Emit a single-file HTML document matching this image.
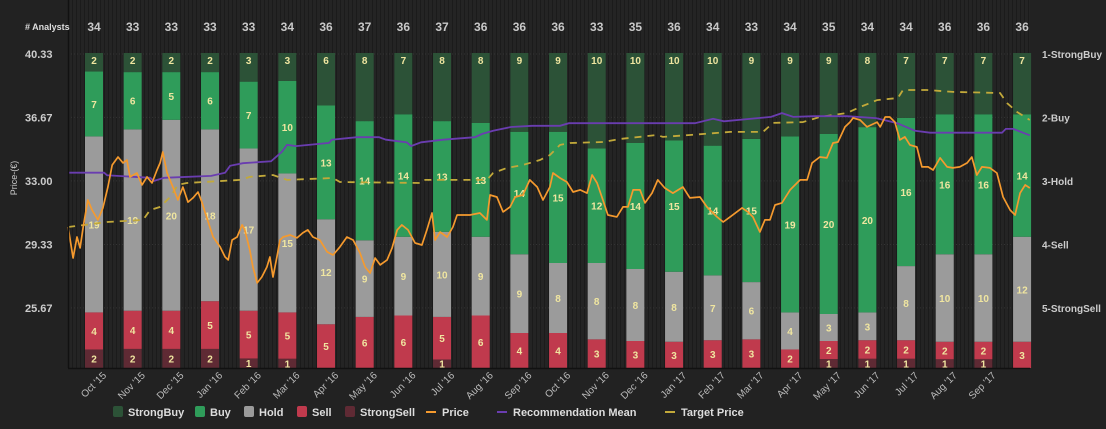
<!DOCTYPE html>
<html><head><meta charset="utf-8">
<style>
html,body{margin:0;padding:0;background:#222222;}
body{width:1106px;height:424px;overflow:hidden;font-family:"Liberation Sans",sans-serif;}
svg text{font-family:"Liberation Sans",sans-serif;}
</style></head>
<body>
<svg id="chart" width="1106" height="424" viewBox="0 0 1106 424" xmlns="http://www.w3.org/2000/svg">
<defs>
<pattern id="stripes" width="4" height="10" patternUnits="userSpaceOnUse">
<rect width="4" height="10" fill="#242424"/><rect width="1" height="10" fill="#1b1b1b"/>
</pattern>
</defs>
<rect x="0" y="0" width="1106" height="424" fill="#222222"/>
<rect x="68" y="0" width="962" height="368" fill="url(#stripes)"/>
<g id="grid"></g>
<g id="bars"></g>
<g id="lines"></g>
<g id="axes"></g>
<g id="legend"></g>
</svg>
<script>
const months = ["Oct '15","Nov '15","Dec '15","Jan '16","Feb '16","Mar '16","Apr '16","May '16","Jun '16","Jul '16","Aug '16","Sep '16","Oct '16","Nov '16","Dec '16","Jan '17","Feb '17","Mar '17","Apr '17","May '17","Jun '17","Jul '17","Aug '17","Sep '17",""];
const strongBuy = [2,2,2,2,3,3,6,8,7,8,8,9,9,10,10,10,10,9,9,9,8,7,7,7,7];
const buy = [7,6,5,6,7,10,13,14,14,13,13,14,15,12,14,15,14,15,19,20,20,16,16,16,14];
const hold = [19,19,20,18,17,15,12,9,9,10,9,9,8,8,8,8,7,6,4,3,3,8,10,10,12];
const sell = [4,4,4,5,5,5,5,6,6,5,6,4,4,3,3,3,3,3,2,2,2,2,2,2,3];
const strongSell = [2,2,2,2,1,1,0,0,0,1,0,0,0,0,0,0,0,0,0,1,1,1,1,1,0];
const priceTicks = [40.33,36.67,33.00,29.33,25.67];
const recTicks = ["1-StrongBuy","2-Buy","3-Hold","4-Sell","5-StrongSell"];
// time in months from Oct '15, value
const priceT = [-0.67,-0.54,-0.44,-0.36,-0.28,-0.16,-0.05,0.10,0.23,0.36,0.47,0.62,0.75,0.85,0.93,1.11,1.24,1.37,1.50,1.63,1.71,1.78,1.89,2.04,2.17,2.30,2.43,2.56,2.69,2.79,2.92,3.08,3.26,3.39,3.47,3.57,3.70,3.83,3.90,4.03,4.11,4.22,4.34,4.47,4.55,4.63,4.73,4.81,4.89,5.07,5.25,5.40,5.53,5.66,5.84,6.03,6.18,6.36,6.54,6.70,6.88,7.01,7.14,7.27,7.40,7.58,7.71,7.84,7.96,8.12,8.30,8.48,8.61,8.74,8.82,8.95,9.13,9.28,9.39,9.72,9.98,10.16,10.24,10.42,10.58,10.76,10.89,11.09,11.27,11.46,11.61,11.79,11.87,12.05,12.23,12.39,12.57,12.75,12.88,13.01,13.16,13.29,13.52,13.68,13.81,13.94,14.12,14.25,14.43,14.58,14.76,14.97,15.23,15.41,15.67,15.85,16.11,16.27,16.45,16.76,16.91,17.04,17.22,17.35,17.48,17.61,17.79,18.00,18.26,18.44,18.57,18.77,18.95,19.11,19.24,19.42,19.55,19.63,19.81,19.99,20.25,20.33,20.46,20.58,20.71,20.84,20.97,21.10,21.28,21.41,21.57,21.70,21.88,22.06,22.21,22.39,22.58,22.70,22.83,22.96,23.17,23.35,23.51,23.69,23.82,23.95,24.08,24.20];
const priceV = [30.34,28.55,29.76,29.13,30.34,31.90,31.32,30.75,31.44,32.65,33.92,34.38,34.04,34.21,33.23,33.46,32.77,33.23,32.88,33.63,34.04,34.67,33.46,32.65,31.90,32.65,31.78,32.02,32.36,31.78,30.86,29.76,29.19,28.61,28.44,29.59,29.76,30.46,30.17,29.01,28.03,27.11,27.45,28.03,28.61,27.45,28.61,29.59,29.76,29.88,29.71,30.00,30.17,29.76,29.59,28.90,28.72,29.19,29.76,29.59,28.84,28.03,27.68,28.55,28.15,28.44,29.13,30.17,30.46,30.17,29.42,29.30,30.17,31.15,29.59,30.05,29.76,30.34,31.03,31.03,31.15,30.75,32.19,32.07,31.21,31.50,32.07,32.19,33.06,32.65,31.90,32.65,33.46,33.17,32.94,32.36,32.48,32.30,33.34,32.88,31.90,31.03,30.92,31.50,31.50,32.48,32.48,31.73,32.30,33.06,32.59,32.30,32.65,32.02,32.07,31.50,30.92,30.63,30.92,31.44,31.21,30.92,30.05,30.75,30.75,31.61,31.73,32.48,33.06,33.06,34.04,34.38,34.33,35.19,35.25,36.12,36.40,36.64,36.52,36.12,36.40,36.12,36.69,36.69,36.40,35.37,35.54,35.08,34.96,33.81,33.81,33.63,34.33,33.81,33.75,33.81,34.04,34.38,33.34,33.81,33.75,33.46,32.07,31.32,31.03,32.30,32.77,32.59];
const recT = [-0.67,0.26,0.34,1.45,1.55,1.81,3.03,3.39,3.52,3.85,4.58,4.86,4.99,5.22,6.08,6.15,6.80,7.37,7.55,8.09,8.20,8.46,9.03,9.85,10.03,10.32,10.78,11.33,12.05,12.28,15.54,16.01,16.29,17.51,17.79,18.08,18.62,19.47,20.22,20.77,21.23,21.62,23.48,23.58,23.77,24.20];
const recV = [2.87,2.87,2.91,2.95,3.00,2.95,2.92,2.87,2.76,2.72,2.69,2.54,2.43,2.45,2.40,2.35,2.31,2.31,2.35,2.39,2.45,2.39,2.35,2.31,2.26,2.21,2.15,2.13,2.13,2.09,2.09,2.02,2.06,1.99,1.93,1.99,1.98,1.98,2.01,2.09,2.21,2.24,2.24,2.18,2.18,2.28];
const targetT = [-0.67,0.34,1.27,1.45,1.71,1.97,2.17,2.40,3.78,4.03,4.63,4.99,6.18,6.36,8.43,8.51,10.16,10.32,10.68,11.09,11.53,11.79,12.05,12.31,13.16,13.60,14.56,14.71,15.41,16.45,17.30,17.56,18.33,18.77,19.47,19.81,20.07,20.25,20.79,20.92,21.54,22.21,23.43,23.61,23.87,24.20];
const targetV = [30.34,30.63,30.75,31.32,31.50,32.07,32.77,32.88,33.06,33.23,33.34,33.06,33.17,32.94,32.88,33.06,33.06,33.46,33.75,33.92,34.21,34.50,35.08,35.19,35.25,35.42,35.65,35.54,35.65,35.83,35.83,36.35,36.40,36.69,36.92,37.27,37.50,37.67,37.79,38.25,38.25,38.14,38.08,37.50,36.98,36.52];

const NS="http://www.w3.org/2000/svg";
const plotTop=53, plotBottom=368, plotLeft=68, plotRight=1030;
const xM = m => 94 + m*38.67;
const yP = v => 54 + (40.33 - v)/3.667*63.5;
const yR = r => 54 + (r-1)*63.5;
function mk(tag, attrs, parent, txt){const e=document.createElementNS(NS,tag);for(const k in attrs)e.setAttribute(k,attrs[k]);if(txt!==undefined)e.textContent=txt;parent.appendChild(e);return e;}

const grid=document.getElementById('grid');
priceTicks.forEach((v,i)=>{
  const l=mk('line',{x1:plotLeft,x2:plotRight,y1:yP(v),y2:yP(v),stroke:'#333',"stroke-width":1,"stroke-dasharray":"1,2"},grid);
  
  
});

const bars=document.getElementById('bars');
const segs=[[strongSell,'#5f2a34'],[sell,'#c03a4d'],[hold,'#9b9b9b'],[buy,'#2f9c5a'],[strongBuy,'#2c5237']];
const segNames=['strongsell','sell','hold','buy','strongbuy'];
const bw=18, H=plotBottom-plotTop;
months.forEach((m,i)=>{
  const total=strongBuy[i]+buy[i]+hold[i]+sell[i]+strongSell[i];
  let y=plotBottom; const cx=xM(i);
  segs.forEach((s,k)=>{
    const n=s[0][i]; if(!n) return;
    const h=n/total*H; y-=h;
    const r=mk('rect',{x:cx-bw/2,y:y,width:bw,height:h,fill:s[1]},bars);
    
    
    const ty = (k===4) ? plotTop+11 : y+h/2+4;
    const t=mk('text',{x:cx,y:ty,"text-anchor":"middle","font-size":10,"font-weight":"bold",fill:'#f0e6a0'},bars,String(n));
    
    
  });
  const c=mk('text',{x:cx,y:31,"text-anchor":"middle","font-size":12,"font-weight":"bold",fill:'#c8c8c8'},bars,String(total));
  
  
  if(m){
    const lx=cx+13, ly=376;
    const xl=mk('text',{x:lx,y:ly,"text-anchor":"end","font-size":10,fill:'#bbbbbb',transform:`rotate(-45 ${lx} ${ly})`},bars,m);
    
    
  }
});

const lines=document.getElementById('lines');
function path(ts,vs,yf){return ts.map((t,i)=>(i?'L':'M')+xM(t).toFixed(1)+','+yf(vs[i]).toFixed(1)).join(' ');}
const tp=mk('path',{d:path(targetT,targetV,yP),fill:'none',stroke:'#c2a93a',"stroke-width":1.8,"stroke-dasharray":"7,6"},lines);


const rm=mk('path',{d:path(recT,recV,yR),fill:'none',stroke:'#6a3db0',"stroke-width":1.8},lines);


const pr=mk('path',{d:path(priceT,priceV,yP),fill:'none',stroke:'#f59a2e',"stroke-width":1.7,"stroke-linejoin":"round"},lines);



const axes=document.getElementById('axes');
const al=mk('line',{x1:68.5,x2:68.5,y1:0,y2:368,stroke:'#111',"stroke-width":1.5},axes);


const bl=mk('line',{x1:68,x2:1030,y1:368.5,y2:368.5,stroke:'#111',"stroke-width":1.5},axes);


priceTicks.forEach(v=>{
  const t=mk('text',{x:25,y:yP(v)+4,"font-size":11,"font-weight":"bold",fill:'#cccccc'},axes,v.toFixed(2));
  
  
});
recTicks.forEach((s,i)=>{
  const t=mk('text',{x:1042,y:yR(i+1)+4,"font-size":10,"font-weight":"bold",fill:'#cccccc'},axes,s);
  
  
});
const ha=mk('text',{x:25,y:30,"font-size":9,"font-weight":"bold",fill:'#dddddd'},axes,'# Analysts');


const yt=mk('text',{x:17,y:178,"font-size":9,fill:'#cccccc',"text-anchor":"middle",transform:'rotate(-90 17 178)'},axes,'Price-(€)');



const legend=document.getElementById('legend');
const legItems=[['StrongBuy','#2c5237',113,'box'],['Buy','#2f9c5a',195,'box'],['Hold','#9b9b9b',244,'box'],['Sell','#c03a4d',297,'box'],['StrongSell','#5f2a34',345,'box'],['Price','#f59a2e',426,'line'],['Recommendation Mean','#6a3db0',497,'line'],['Target Price','#c2a93a',665,'line']];
legItems.forEach(it=>{
  const g=mk('g',{},legend);
  
  
  if(it[3]==='box'){mk('rect',{x:it[2],y:406,width:10,height:11,rx:2,fill:it[1]},g);
    mk('text',{x:it[2]+15,y:416,"font-size":11,"font-weight":"bold",fill:'#dddddd'},g,it[0]);}
  else{mk('line',{x1:it[2],x2:it[2]+10,y1:412,y2:412,stroke:it[1],"stroke-width":2},g);
    mk('text',{x:it[2]+16,y:416,"font-size":11,"font-weight":"bold",fill:'#dddddd'},g,it[0]);}
});
</script>
</body></html>
